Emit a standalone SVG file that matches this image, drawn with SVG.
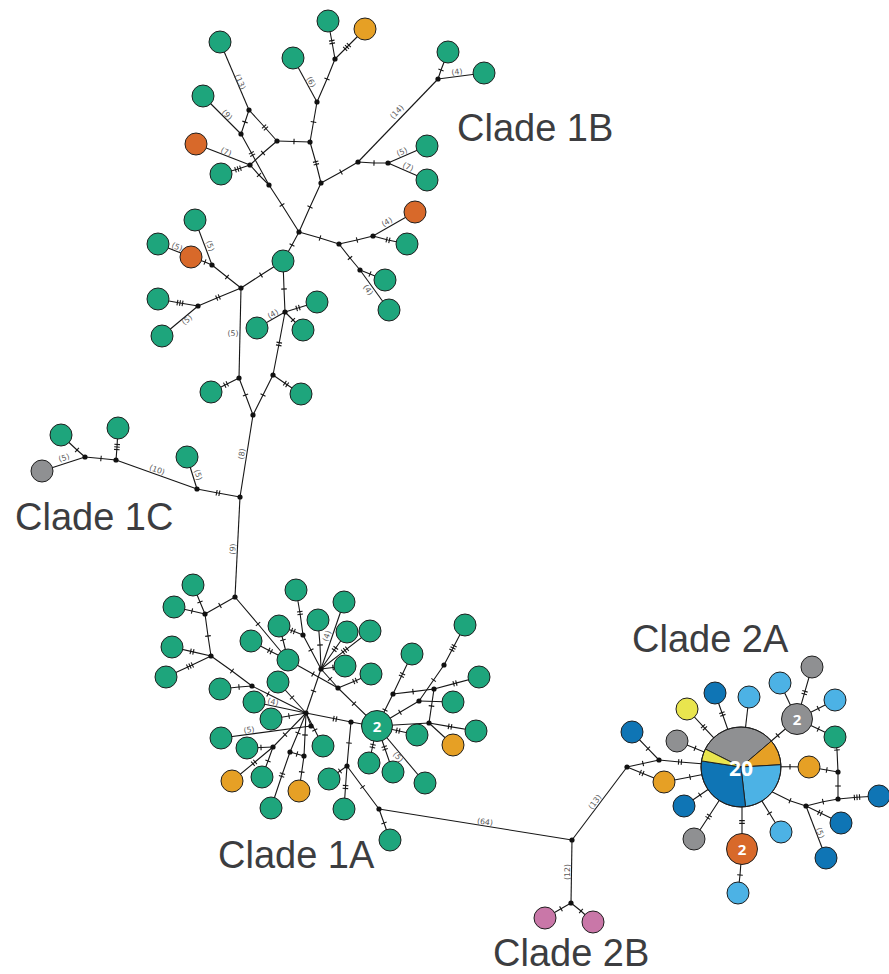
<svg xmlns="http://www.w3.org/2000/svg" width="889" height="974" viewBox="0 0 889 974">
<style>
.e{fill:none;stroke:#161616;stroke-width:1.1}
.t1{marker-mid:url(#m1)}
.t2{marker-mid:url(#m2)}
.t3{marker-mid:url(#m3)}
.n{stroke:#1f1f1f;stroke-width:1}
.gr{fill:#1ea57c}.br{fill:#d8692a}.or{fill:#e6a025}.gy{fill:#8f9092}.db{fill:#0f75b5}.lb{fill:#4cb2e5}.ye{fill:#e9e54e}.pk{fill:#c977a8}
.m{fill:#111}
.lab{font-family:"DejaVu Sans",sans-serif;font-size:7.8px;fill:#5a5a5a;text-anchor:middle;dominant-baseline:central}
.cl{font-family:"Liberation Sans",Arial,sans-serif;font-size:38px;fill:#3c3d40}
.num{font-family:"Open Sans","DejaVu Sans",sans-serif;font-weight:bold;fill:#fff;text-anchor:middle;dominant-baseline:central}
</style>
<defs>
<marker id="m1" markerUnits="userSpaceOnUse" markerWidth="10" markerHeight="10" viewBox="-5 -5 10 10" refX="0" refY="0" orient="auto"><path d="M0-2.8V2.8" stroke="#161616" stroke-width="1.1"/></marker>
<marker id="m2" markerUnits="userSpaceOnUse" markerWidth="10" markerHeight="10" viewBox="-5 -5 10 10" refX="0" refY="0" orient="auto"><path d="M-1.4-2.8V2.8M1.4-2.8V2.8" stroke="#161616" stroke-width="1.1"/></marker>
<marker id="m3" markerUnits="userSpaceOnUse" markerWidth="10" markerHeight="10" viewBox="-5 -5 10 10" refX="0" refY="0" orient="auto"><path d="M-2.6-2.8V2.8M0-2.8V2.8M2.6-2.8V2.8" stroke="#161616" stroke-width="1.1"/></marker>
</defs>
<rect width="889" height="974" fill="#fff"/>
<g id="connectors">
<path class="e" d="M220 42L249 110"/>
<path class="e t1" d="M249 110L245 122L241 134"/>
<path class="e t2" d="M249 110L265 127.5L277 141"/>
<path class="e" d="M203 96L241 134"/>
<path class="e t2" d="M241 134L252 154L269 185"/>
<path class="e t1" d="M277 141L263 153L250 165"/>
<path class="e t1" d="M250 165L259 175L269 185"/>
<path class="e" d="M196 144L250 165"/>
<path class="e t3" d="M221 174L238 169L250 165"/>
<path class="e t1" d="M277 141L294 141.5L310 142"/>
<path class="e t1" d="M310 142L313.5 122L317 102"/>
<path class="e" d="M317 102L293 58"/>
<path class="e t1" d="M317 102L327 79L335 59"/>
<path class="e t2" d="M335 59L332 42L328 21"/>
<path class="e t3" d="M335 59L347 47L365 29"/>
<path class="e t2" d="M310 142L316 163L321 183"/>
<path class="e t1" d="M321 183L341 172L358 162"/>
<path class="e" d="M358 162L438 79"/>
<path class="e t1" d="M438 79L441 70L448 52"/>
<path class="e" d="M438 79L484 73"/>
<path class="e t1" d="M358 162L374 163L388 163"/>
<path class="e" d="M388 163L427 146"/>
<path class="e" d="M388 163L427 180"/>
<path class="e t1" d="M269 185L282 205L299 232"/>
<path class="e t1" d="M321 183L310 207L299 232"/>
<path class="e t1" d="M299 232L320 238L339 244"/>
<path class="e t1" d="M339 244L357 240L373 236"/>
<path class="e" d="M373 236L415 212"/>
<path class="e t2" d="M373 236L388 240L407 244"/>
<path class="e t1" d="M339 244L350 258L360 270"/>
<path class="e t1" d="M360 270L370 274L385 280"/>
<path class="e" d="M360 270L389 310"/>
<path class="e t1" d="M299 232L292 245L283 261"/>
<path class="e t1" d="M283 261L284 289L285 312"/>
<path class="e t2" d="M285 312L298 308L317 302"/>
<path class="e" d="M285 312L257 328"/>
<path class="e t1" d="M285 312L293 320L303 330"/>
<path class="e t1" d="M241 288L261 275L283 261"/>
<path class="e" d="M195 220L212 265"/>
<path class="e t1" d="M191 257L205 262L212 265"/>
<path class="e" d="M158 244L191 257"/>
<path class="e t1" d="M212 265L227 277L241 288"/>
<path class="e t2" d="M241 288L218 297.5L198 306"/>
<path class="e t3" d="M198 306L180 303L158 299"/>
<path class="e" d="M198 306L162 336"/>
<path class="e" d="M241 288L239 378"/>
<path class="e t2" d="M239 378L226 384.5L211 392"/>
<path class="e t2" d="M285 312L279 344L273 375"/>
<path class="e t2" d="M273 375L286 384L301 394"/>
<path class="e t1" d="M239 378L245.5 395L253 415"/>
<path class="e t1" d="M273 375L263 395L253 415"/>
<path class="e" d="M253 415L240 497"/>
<path class="e" d="M240 497L235 597"/>
<path class="e t2" d="M240 497L218 493L197 489"/>
<path class="e" d="M197 489L187 457"/>
<path class="e" d="M197 489L116 460"/>
<path class="e t3" d="M116 460L117 447L118 428"/>
<path class="e t1" d="M116 460L101 458.5L85 457"/>
<path class="e t1" d="M85 457L77 450L61 435"/>
<path class="e" d="M85 457L42 471"/>
<path class="e t1" d="M235 597L220 605.5L205 614"/>
<path class="e t1" d="M205 614L200 602L193 585"/>
<path class="e t1" d="M205 614L192 611L174 607"/>
<path class="e t1" d="M205 614L208 636L211 656"/>
<path class="e t2" d="M211 656L192 651.6L172 647"/>
<path class="e t3" d="M211 656L190 666L166 677"/>
<path class="e t1" d="M211 656L232 671L252 686"/>
<path class="e t1" d="M252 686L239 687L220 689"/>
<path class="e t1" d="M252 686L268 694L306 713"/>
<path class="e t1" d="M235 597L258 624L288 660"/>
<path class="e t2" d="M251 641L270 651L288 660"/>
<path class="e t1" d="M279 626L283 640L288 660"/>
<path class="e t2" d="M279 626L293 631L303 635"/>
<path class="e t2" d="M296 590L300 613L303 635"/>
<path class="e t1" d="M303 635L311 650L321 669"/>
<path class="e t1" d="M318 620L320 645L321 669"/>
<path class="e" d="M344 602L321 669"/>
<path class="e t2" d="M347 632L335 649L321 669"/>
<path class="e t3" d="M370 631L345 650.4L321 669"/>
<path class="e t1" d="M345 666L333 667.5L321 669"/>
<path class="e t1" d="M321 669L313.5 691L306 713"/>
<path class="e t1" d="M288 660L313 674L338 688"/>
<path class="e t1" d="M321 669L330 679L338 688"/>
<path class="e t2" d="M338 688L355 681L371 674"/>
<path class="e t1" d="M338 688L354 703.6L377 726"/>
<path class="e t1" d="M377 726L385 710L393 694"/>
<path class="e t2" d="M393 694L402 675L412 654"/>
<path class="e t1" d="M393 694L413 691.6L434 689"/>
<path class="e t2" d="M434 689L455 683.4L479 677"/>
<path class="e t3" d="M444 665L453 648L465 625"/>
<path class="e t1" d="M444 665L433.6 680L419 701"/>
<path class="e" d="M419 701L453 702"/>
<path class="e t1" d="M419 701L400 712.3L377 726"/>
<path class="e t1" d="M434 689L431.5 706L429 723"/>
<path class="e" d="M429 723L377 726"/>
<path class="e t2" d="M429 723L450 726.6L476 731"/>
<path class="e" d="M429 723L453 745"/>
<path class="e t2" d="M306 713L335 718.8L351 722"/>
<path class="e t1" d="M351 722L362 724L377 726"/>
<path class="e" d="M306 713L254 702"/>
<path class="e t1" d="M306 713L289 716L271 719"/>
<path class="e t1" d="M306 713L292 697.5L278 682"/>
<path class="e" d="M306 713L311 726"/>
<path class="e" d="M311 726L221 738"/>
<path class="e t1" d="M306 713L285 734.6L273 747"/>
<path class="e t1" d="M273 747L261 747.5L247 748"/>
<path class="e t2" d="M273 747L254 762.8L232 781"/>
<path class="e t1" d="M273 747L268 761L262 777"/>
<path class="e t1" d="M306 713L298 733L290 752"/>
<path class="e t2" d="M290 752L282 775L271 808"/>
<path class="e t1" d="M290 752L297 754L304 756"/>
<path class="e t1" d="M304 756L301.7 772L299 791"/>
<path class="e t1" d="M304 756L305 735L306 713"/>
<path class="e t1" d="M306 713L314.8 730L323 746"/>
<path class="e t1" d="M351 722L349 743L347 766"/>
<path class="e t1" d="M347 766L340 771L329 779"/>
<path class="e t2" d="M347 766L345.5 787L344 809"/>
<path class="e t1" d="M347 766L362.6 787L379 809"/>
<path class="e t1" d="M379 809L384 823L390 840"/>
<path class="e t2" d="M377 726L372.7 746L369 763"/>
<path class="e t2" d="M377 726L384.7 748L393 772"/>
<path class="e" d="M377 726L425 783"/>
<path class="e t2" d="M377 726L398 730.7L417 735"/>
<path class="e" d="M379 809L572 840"/>
<path class="e" d="M572 840L627 767"/>
<path class="e" d="M572 840L571 903"/>
<path class="e t1" d="M571 903L561 908.8L545 918"/>
<path class="e t1" d="M571 903L581 911L593 922"/>
<path class="e t1" d="M627 767L643 763.5L659 760"/>
<path class="e t1" d="M659 760L648 748.6L632 732"/>
<path class="e t2" d="M659 760L680 762L741 767"/>
<path class="e t2" d="M627 767L641.7 773L664 782"/>
<path class="e t1" d="M664 782L690 777L741 767"/>
<path class="e t1" d="M677 741L695 748.3L741 767"/>
<path class="e t2" d="M687 709L704 727.3L741 767"/>
<path class="e t2" d="M715 693L722.4 714L741 767"/>
<path class="e" d="M749 697L741 767"/>
<path class="e t1" d="M797 719L777.7 735.5L741 767"/>
<path class="e" d="M797 719L780 683"/>
<path class="e t2" d="M797 719L804.6 692.7L812 667"/>
<path class="e t1" d="M797 719L818.3 708.4L835 700"/>
<path class="e t1" d="M797 719L818.3 729.1L835 737"/>
<path class="e t1" d="M835 737L837 750L838 772"/>
<path class="e t1" d="M741 767L790 766.8L809 767"/>
<path class="e t1" d="M809 767L826.7 770L838 772"/>
<path class="e t1" d="M838 772L838 786L838 799"/>
<path class="e t3" d="M838 799L857 797.3L879 796"/>
<path class="e t1" d="M760 786L790 800.7L806 806"/>
<path class="e t1" d="M806 806L823 801.7L838 799"/>
<path class="e t2" d="M806 806L820 812.8L841 823"/>
<path class="e" d="M806 806L826 858"/>
<path class="e t1" d="M741 767L700 795L684 806"/>
<path class="e t2" d="M741 767L708.6 816.7L694 839"/>
<path class="e t2" d="M742 767L742 822L742 849"/>
<path class="e t1" d="M742 849L740 875L738 893"/>
<path class="e t1" d="M741 767L769.5 813.3L781 832"/>
</g>
<g id="medians">
<circle class="m" cx="249" cy="110" r="2.6"/><circle class="m" cx="241" cy="134" r="2.6"/><circle class="m" cx="277" cy="141" r="2.6"/><circle class="m" cx="310" cy="142" r="2.6"/><circle class="m" cx="250" cy="165" r="2.6"/><circle class="m" cx="269" cy="185" r="2.6"/><circle class="m" cx="317" cy="102" r="2.6"/><circle class="m" cx="335" cy="59" r="2.6"/><circle class="m" cx="321" cy="183" r="2.6"/><circle class="m" cx="358" cy="162" r="2.6"/><circle class="m" cx="438" cy="79" r="2.6"/><circle class="m" cx="388" cy="163" r="2.6"/><circle class="m" cx="299" cy="232" r="2.6"/><circle class="m" cx="339" cy="244" r="2.6"/><circle class="m" cx="373" cy="236" r="2.6"/><circle class="m" cx="360" cy="270" r="2.6"/><circle class="m" cx="285" cy="312" r="2.6"/><circle class="m" cx="241" cy="288" r="2.6"/><circle class="m" cx="212" cy="265" r="2.6"/><circle class="m" cx="198" cy="306" r="2.6"/><circle class="m" cx="239" cy="378" r="2.6"/><circle class="m" cx="273" cy="375" r="2.6"/><circle class="m" cx="253" cy="415" r="2.6"/><circle class="m" cx="240" cy="497" r="2.6"/><circle class="m" cx="235" cy="597" r="2.6"/>
<circle class="m" cx="85" cy="457" r="2.6"/><circle class="m" cx="116" cy="460" r="2.6"/><circle class="m" cx="197" cy="489" r="2.6"/>
<circle class="m" cx="205" cy="614" r="2.6"/><circle class="m" cx="211" cy="656" r="2.6"/><circle class="m" cx="252" cy="686" r="2.6"/><circle class="m" cx="303" cy="635" r="2.6"/><circle class="m" cx="321" cy="669" r="2.6"/><circle class="m" cx="338" cy="688" r="2.6"/><circle class="m" cx="393" cy="694" r="2.6"/><circle class="m" cx="419" cy="701" r="2.6"/><circle class="m" cx="434" cy="689" r="2.6"/><circle class="m" cx="444" cy="665" r="2.6"/><circle class="m" cx="429" cy="723" r="2.6"/><circle class="m" cx="351" cy="722" r="2.6"/><circle class="m" cx="311" cy="726" r="2.6"/><circle class="m" cx="273" cy="747" r="2.6"/><circle class="m" cx="290" cy="752" r="2.6"/><circle class="m" cx="304" cy="756" r="2.6"/><circle class="m" cx="347" cy="766" r="2.6"/><circle class="m" cx="379" cy="809" r="2.6"/><circle class="m" cx="306" cy="713" r="2.6"/>
<circle class="m" cx="572" cy="840" r="2.6"/><circle class="m" cx="571" cy="903" r="2.6"/>
<circle class="m" cx="627" cy="767" r="2.6"/><circle class="m" cx="659" cy="760" r="2.6"/><circle class="m" cx="838" cy="772" r="2.6"/><circle class="m" cx="838" cy="799" r="2.6"/><circle class="m" cx="806" cy="806" r="2.6"/>
</g>
<g id="clade1B">
<g id="h1"><circle class="n gr" cx="220" cy="42" r="11"/></g>
<g id="h2"><circle class="n gr" cx="203" cy="96" r="11"/></g>
<g id="h3"><circle class="n br" cx="196" cy="144" r="11"/></g>
<g id="h4"><circle class="n gr" cx="221" cy="174" r="11"/></g>
<g id="h5"><circle class="n gr" cx="293" cy="58" r="11"/></g>
<g id="h6"><circle class="n gr" cx="328" cy="21" r="11"/></g>
<g id="h7"><circle class="n or" cx="365" cy="29" r="11"/></g>
<g id="h8"><circle class="n gr" cx="448" cy="52" r="11"/></g>
<g id="h9"><circle class="n gr" cx="484" cy="73" r="11"/></g>
<g id="h10"><circle class="n gr" cx="427" cy="146" r="11"/></g>
<g id="h11"><circle class="n gr" cx="427" cy="180" r="11"/></g>
<g id="h12"><circle class="n br" cx="415" cy="212" r="11"/></g>
<g id="h13"><circle class="n gr" cx="407" cy="244" r="11"/></g>
<g id="h14"><circle class="n gr" cx="385" cy="280" r="11"/></g>
<g id="h15"><circle class="n gr" cx="389" cy="310" r="11"/></g>
<g id="h16"><circle class="n gr" cx="283" cy="261" r="11"/></g>
<g id="h17"><circle class="n gr" cx="317" cy="302" r="11"/></g>
<g id="h18"><circle class="n gr" cx="257" cy="328" r="11"/></g>
<g id="h19"><circle class="n gr" cx="303" cy="330" r="11"/></g>
<g id="h20"><circle class="n gr" cx="195" cy="220" r="11"/></g>
<g id="h21"><circle class="n gr" cx="158" cy="244" r="11"/></g>
<g id="h22"><circle class="n br" cx="191" cy="257" r="11"/></g>
<g id="h23"><circle class="n gr" cx="158" cy="299" r="11"/></g>
<g id="h24"><circle class="n gr" cx="162" cy="336" r="11"/></g>
<g id="h25"><circle class="n gr" cx="211" cy="392" r="11"/></g>
<g id="h26"><circle class="n gr" cx="301" cy="394" r="11"/></g>
</g>
<g id="clade1C">
<g id="h27"><circle class="n gr" cx="61" cy="435" r="11"/></g>
<g id="h28"><circle class="n gy" cx="42" cy="471" r="11"/></g>
<g id="h29"><circle class="n gr" cx="118" cy="428" r="11"/></g>
<g id="h30"><circle class="n gr" cx="187" cy="457" r="11"/></g>
</g>
<g id="clade1A">
<g id="h31"><circle class="n gr" cx="193" cy="585" r="11"/></g>
<g id="h32"><circle class="n gr" cx="174" cy="607" r="11"/></g>
<g id="h33"><circle class="n gr" cx="172" cy="647" r="11"/></g>
<g id="h34"><circle class="n gr" cx="166" cy="677" r="11"/></g>
<g id="h35"><circle class="n gr" cx="220" cy="689" r="11"/></g>
<g id="h36"><circle class="n gr" cx="251" cy="641" r="11"/></g>
<g id="h37"><circle class="n gr" cx="279" cy="626" r="11"/></g>
<g id="h38"><circle class="n gr" cx="296" cy="590" r="11"/></g>
<g id="h39"><circle class="n gr" cx="288" cy="660" r="11"/></g>
<g id="h40"><circle class="n gr" cx="318" cy="620" r="11"/></g>
<g id="h41"><circle class="n gr" cx="344" cy="602" r="11"/></g>
<g id="h42"><circle class="n gr" cx="347" cy="632" r="11"/></g>
<g id="h43"><circle class="n gr" cx="370" cy="631" r="11"/></g>
<g id="h44"><circle class="n gr" cx="345" cy="666" r="11"/></g>
<g id="h45"><circle class="n gr" cx="371" cy="674" r="11"/></g>
<g id="h46"><circle class="n gr" cx="278" cy="682" r="11"/></g>
<g id="h47"><circle class="n gr" cx="254" cy="702" r="11"/></g>
<g id="h48"><circle class="n gr" cx="271" cy="719" r="11"/></g>
<g id="h49"><circle class="n gr" cx="221" cy="738" r="11"/></g>
<g id="h50"><circle class="n gr" cx="247" cy="748" r="11"/></g>
<g id="h51"><circle class="n or" cx="232" cy="781" r="11"/></g>
<g id="h52"><circle class="n gr" cx="262" cy="777" r="11"/></g>
<g id="h53"><circle class="n gr" cx="271" cy="808" r="11"/></g>
<g id="h54"><circle class="n or" cx="299" cy="791" r="11"/></g>
<g id="h55"><circle class="n gr" cx="323" cy="746" r="11"/></g>
<g id="h56"><circle class="n gr" cx="329" cy="779" r="11"/></g>
<g id="h57"><circle class="n gr" cx="344" cy="809" r="11"/></g>
<g id="h58"><circle class="n gr" cx="369" cy="763" r="11"/></g>
<g id="h59"><circle class="n gr" cx="393" cy="772" r="11"/></g>
<g id="h60"><circle class="n gr" cx="425" cy="783" r="11"/></g>
<g id="h61"><circle class="n gr" cx="417" cy="735" r="11"/></g>
<g id="h62"><circle class="n or" cx="453" cy="745" r="11"/></g>
<g id="h63"><circle class="n gr" cx="412" cy="654" r="11"/></g>
<g id="h64"><circle class="n gr" cx="465" cy="625" r="11"/></g>
<g id="h65"><circle class="n gr" cx="479" cy="677" r="11"/></g>
<g id="h66"><circle class="n gr" cx="453" cy="702" r="11"/></g>
<g id="h67"><circle class="n gr" cx="476" cy="731" r="11"/></g>
<g id="h68"><circle class="n gr" cx="390" cy="840" r="11"/></g>
<g id="h69"><circle class="n gr" cx="377" cy="726" r="15.5"/><text class="num" x="377" y="726" font-size="15">2</text></g>
</g>
<g id="clade2B">
<g id="h70"><circle class="n pk" cx="545" cy="918" r="11"/></g>
<g id="h71"><circle class="n pk" cx="593" cy="922" r="11"/></g>
</g>
<g id="clade2A">
<g id="h72"><circle class="n db" cx="632" cy="732" r="11"/></g>
<g id="h73"><circle class="n or" cx="664" cy="782" r="11"/></g>
<g id="h74"><circle class="n gy" cx="677" cy="741" r="11"/></g>
<g id="h75"><circle class="n ye" cx="687" cy="709" r="11"/></g>
<g id="h76"><circle class="n db" cx="715" cy="693" r="11"/></g>
<g id="h77"><circle class="n lb" cx="749" cy="697" r="11"/></g>
<g id="h78"><circle class="n lb" cx="780" cy="683" r="11"/></g>
<g id="h79"><circle class="n gy" cx="812" cy="667" r="11"/></g>
<g id="h80"><circle class="n lb" cx="835" cy="700" r="11"/></g>
<g id="h81"><circle class="n gr" cx="835" cy="737" r="11"/></g>
<g id="h82"><circle class="n or" cx="809" cy="767" r="11"/></g>
<g id="h83"><circle class="n db" cx="879" cy="796" r="11"/></g>
<g id="h84"><circle class="n db" cx="841" cy="823" r="11"/></g>
<g id="h85"><circle class="n db" cx="826" cy="858" r="11"/></g>
<g id="h86"><circle class="n lb" cx="781" cy="832" r="11"/></g>
<g id="h87"><circle class="n lb" cx="738" cy="893" r="11"/></g>
<g id="h88"><circle class="n gy" cx="694" cy="839" r="11"/></g>
<g id="h89"><circle class="n db" cx="684" cy="806" r="11"/></g>
<g id="h90"><circle class="n gy" cx="797" cy="719" r="15.5"/><text class="num" x="797" y="719" font-size="15">2</text></g>
<g id="h91"><circle class="n br" cx="742" cy="849" r="15.5"/><text class="num" x="742" y="849" font-size="15">2</text></g>
<g id="h92">
<path class="n gy" d="M741 767L705.3 749A40 40 0 0 1 771.4 741Z"/>
<path class="n or" d="M741 767L771.4 741A40 40 0 0 1 780.9 764.7Z"/>
<path class="n lb" d="M741 767L780.9 764.7A40 40 0 0 1 745.5 806.7Z"/>
<path class="n db" d="M741 767L745.5 806.7A40 40 0 0 1 701.5 760.9Z"/>
<path class="n ye" d="M741 767L701.5 760.9A40 40 0 0 1 705.3 749Z"/>
<circle cx="741" cy="767" r="40" fill="none" stroke="#1f1f1f" stroke-width="1"/>
<text class="num" x="741" y="768" font-size="21">20</text>
</g>
</g>
<g id="labels">
<text class="lab" transform="translate(240,82) rotate(67)">(13)</text>
<text class="lab" transform="translate(227,115) rotate(45)">(9)</text>
<text class="lab" transform="translate(226,152) rotate(21)">(7)</text>
<text class="lab" transform="translate(311,82) rotate(61)">(6)</text>
<text class="lab" transform="translate(397,112) rotate(-46)">(14)</text>
<text class="lab" transform="translate(457,72) rotate(-7)">(4)</text>
<text class="lab" transform="translate(402,152) rotate(-24)">(5)</text>
<text class="lab" transform="translate(408,167) rotate(24)">(7)</text>
<text class="lab" transform="translate(387,222) rotate(-30)">(4)</text>
<text class="lab" transform="translate(368,290) rotate(54)">(4)</text>
<text class="lab" transform="translate(273,314) rotate(-30)">(4)</text>
<text class="lab" transform="translate(210,246) rotate(69)">(5)</text>
<text class="lab" transform="translate(177,247) rotate(21)">(5)</text>
<text class="lab" transform="translate(187,320) rotate(-40)">(5)</text>
<text class="lab" transform="translate(233,333)">(5)</text>
<text class="lab" transform="translate(242,454) rotate(-81)">(8)</text>
<text class="lab" transform="translate(233,549) rotate(-87)">(9)</text>
<text class="lab" transform="translate(64,458) rotate(-18)">(5)</text>
<text class="lab" transform="translate(157,470) rotate(20)">(10)</text>
<text class="lab" transform="translate(198,475) rotate(73)">(5)</text>
<text class="lab" transform="translate(273,702) rotate(12)">(4)</text>
<text class="lab" transform="translate(327,636) rotate(-71)">(4)</text>
<text class="lab" transform="translate(249,730) rotate(-8)">(5)</text>
<text class="lab" transform="translate(398,757) rotate(50)">(5)</text>
<text class="lab" transform="translate(485,822) rotate(9)">(64)</text>
<text class="lab" transform="translate(595,802) rotate(-53)">(13)</text>
<text class="lab" transform="translate(567,872) rotate(-90)">(12)</text>
<text class="lab" transform="translate(820,833) rotate(69)">(5)</text>
</g>
<g id="titles">
<text class="cl" x="457" y="141">Clade 1B</text>
<text class="cl" x="15" y="530">Clade 1C</text>
<text class="cl" x="218" y="868">Clade 1A</text>
<text class="cl" x="632" y="652">Clade 2A</text>
<text class="cl" x="493" y="966">Clade 2B</text>
</g>
</svg>
